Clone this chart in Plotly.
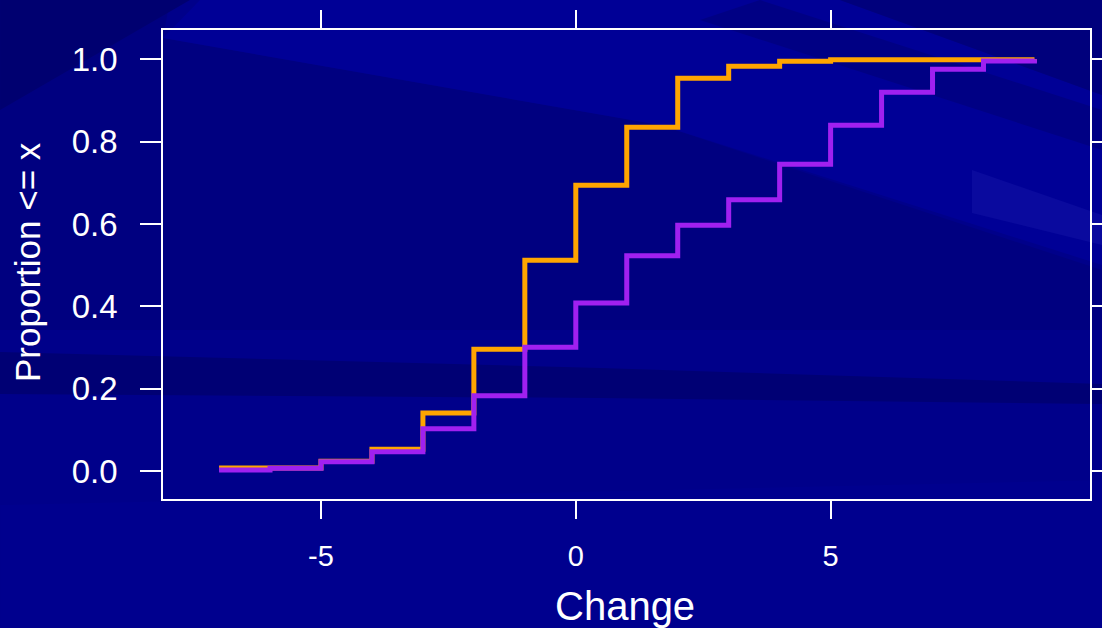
import plotly.graph_objects as go

# ---- data ----
change = [-7, -6, -5, -4, -3, -2, -1, 0, 1, 2, 3, 4, 5, 6, 7, 8, 9]
prop_orange = [0.008, 0.008, 0.024, 0.053, 0.141, 0.296, 0.512, 0.694, 0.835,
               0.954, 0.983, 0.995, 0.999, 0.999, 0.999, 0.999, 1.0]
prop_purple = [0.003, 0.007, 0.023, 0.047, 0.103, 0.183, 0.301, 0.408, 0.523,
               0.597, 0.659, 0.745, 0.840, 0.920, 0.976, 0.996, 1.0]
x_ticks = [-5, 0, 5]
x_ticktext = ["-5", "0", "5"]
y_ticks = [0.0, 0.2, 0.4, 0.6, 0.8, 1.0]
y_ticktext = ["0.0", "0.2", "0.4", "0.6", "0.8", "1.0"]

W, H = 1102, 628
L, R, T, B = 163, 1090, 30, 499


def px2paper(pts):
    return [((x - L) / (R - L), (B - y) / (B - T)) for x, y in pts]


def poly(pts, color):
    pp = px2paper(pts)
    path = "M " + " L ".join(f"{x:.4f},{y:.4f}" for x, y in pp) + " Z"
    return dict(type="path", path=path, xref="paper", yref="paper",
                fillcolor=color, line=dict(width=0), layer="below")


shapes = [
    poly([(0, 0), (170, 0), (163, 38), (660, 125), (1102, 270), (1102, 330), (0, 330)], "#000080"),
    poly([(0, 0), (190, 0), (0, 110)], "#000070"),
    poly([(200, 0), (840, 0), (1102, 95), (1102, 265), (660, 125), (163, 38)], "#000096"),
    poly([(840, 0), (1102, 0), (1102, 95)], "#00007C"),
    poly([(760, 0), (1102, 110), (1102, 150), (700, 20)], "#000084"),
    poly([(0, 352), (600, 368), (1102, 384), (1102, 404), (600, 398), (0, 394)], "#000074"),
    poly([(972, 170), (1102, 215), (1102, 245), (972, 213)], "#0A0A9E"),
    poly([(0, 505), (1102, 480), (1102, 628), (0, 628)], "#00008E"),
]

fig = go.Figure()
fig.add_trace(go.Scatter(x=change, y=prop_orange, mode="lines", line_shape="hv",
                         line=dict(color="#FFA500", width=5), showlegend=False))
fig.add_trace(go.Scatter(x=change, y=prop_purple, mode="lines", line_shape="hv",
                         line=dict(color="#A020F0", width=5), showlegend=False))

font_family = "Liberation Sans, Arial, sans-serif"
fig.update_layout(
    width=W, height=H,
    margin=dict(l=L, r=W - R, t=T, b=H - B, pad=0, autoexpand=False),
    paper_bgcolor="#00008A",
    plot_bgcolor="rgba(0,0,0,0)",
    shapes=shapes,
    font=dict(family=font_family, color="white"),
    xaxis=dict(range=[-8.1, 10.09], tickvals=x_ticks, ticktext=x_ticktext,
               showgrid=False, zeroline=False, showline=True, linecolor="white",
               linewidth=1.5, mirror="ticks", ticks="outside", ticklen=18,
               tickwidth=2, tickcolor="white", tickfont=dict(size=29, color="white"),
               ticklabelstandoff=12, automargin=False),
    yaxis=dict(range=[-0.0675, 1.071], tickvals=y_ticks, ticktext=y_ticktext,
               showgrid=False, zeroline=False, showline=True, linecolor="white",
               linewidth=1.5, mirror="ticks", ticks="outside", ticklen=21,
               tickwidth=2, tickcolor="white", tickfont=dict(size=33, color="white"),
               ticklabelstandoff=16, automargin=False),
    annotations=[
        dict(text="Change", xref="paper", yref="paper",
             x=(625 - L) / (R - L), y=(B - 606) / (B - T),
             xanchor="center", yanchor="middle", showarrow=False,
             font=dict(size=40, color="white", family=font_family)),
        dict(text="Proportion <= x", xref="paper", yref="paper",
             x=(27 - L) / (R - L), y=(B - 262) / (B - T), textangle=-90,
             xanchor="center", yanchor="middle", showarrow=False,
             font=dict(size=35, color="white", family=font_family)),
    ],
)

fig.write_html("out.html")
